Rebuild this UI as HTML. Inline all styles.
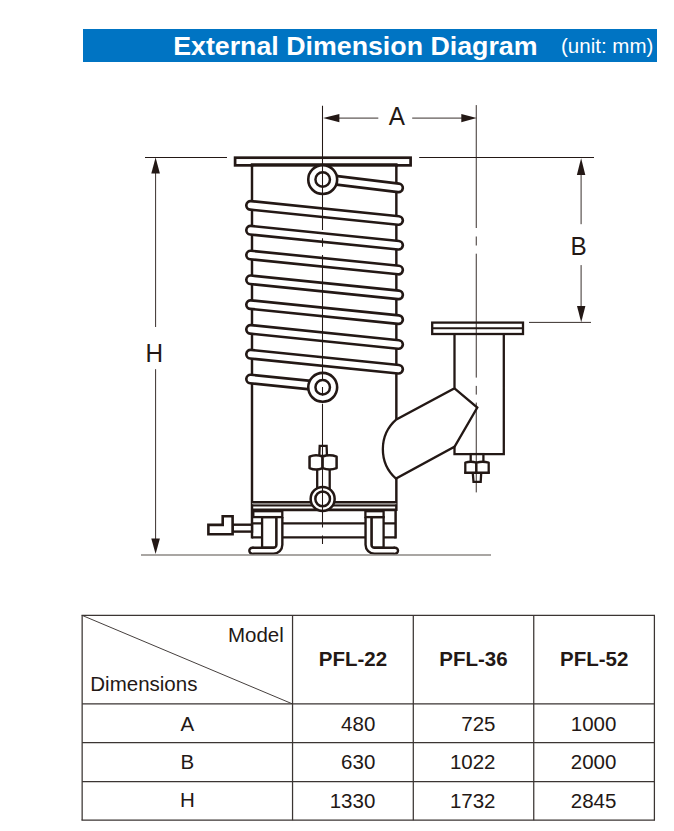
<!DOCTYPE html>
<html><head><meta charset="utf-8"><title>External Dimension Diagram</title>
<style>
html,body{margin:0;padding:0;background:#fff;}
body{width:674px;height:831px;overflow:hidden;font-family:"Liberation Sans",sans-serif;}
svg{display:block;position:absolute;left:0;top:0;}
text{font-family:"Liberation Sans",sans-serif;}
</style></head><body>
<svg width="674" height="831" viewBox="0 0 674 831">

<rect x="83" y="29" width="574" height="33" fill="#0074c3"/>
<text x="173.2" y="54.7" font-size="26.3" font-weight="bold" fill="#fff" textLength="364.3" lengthAdjust="spacingAndGlyphs">External Dimension Diagram</text>
<text x="561" y="53.2" font-size="20" fill="#fff" textLength="92.3" lengthAdjust="spacingAndGlyphs">(unit: mm)</text>
<g fill="none" stroke="#231815" stroke-width="2.3" stroke-linecap="butt" stroke-linejoin="miter">
<path d="M252 163.3 V538.6" stroke-width="2.45"/>
<path d="M396.35 163.3 V419.4 M396.35 478.6 V511" stroke-width="2.45"/>
<rect x="235.1" y="157.7" width="175.5" height="7.65" fill="#fff" stroke-width="2.7"/>
<path d="M252 167 V164.4 H396.35 V167" stroke-width="2.45"/>
<path d="M252 503.7 H396.35" stroke-width="1.6" stroke="#8f8b89"/>
<path d="M252 502 H396.35" stroke-width="2"/>
<path d="M252 505.6 H396.35" stroke-width="2"/>
<path d="M252 509.8 H396.35" stroke-width="2.8"/>
<path d="M252 523.3 H395.6 M252 537.4 H395.6" stroke-width="2.3"/>
<path d="M395.6 511 V538.55" stroke-width="2.5"/>
</g>
<path d="M250.6 205.4 L398.55 220.45" stroke="#231815" stroke-width="11.2" stroke-linecap="round" fill="none"/>
<path d="M250.6 205.4 L398.55 220.45" stroke="#fff" stroke-width="5.9" stroke-linecap="round" fill="none"/>
<path d="M250.6 230.2 L398.55 245.25" stroke="#231815" stroke-width="11.2" stroke-linecap="round" fill="none"/>
<path d="M250.6 230.2 L398.55 245.25" stroke="#fff" stroke-width="5.9" stroke-linecap="round" fill="none"/>
<path d="M250.6 255.0 L398.55 270.05" stroke="#231815" stroke-width="11.2" stroke-linecap="round" fill="none"/>
<path d="M250.6 255.0 L398.55 270.05" stroke="#fff" stroke-width="5.9" stroke-linecap="round" fill="none"/>
<path d="M250.6 279.8 L398.55 294.85" stroke="#231815" stroke-width="11.2" stroke-linecap="round" fill="none"/>
<path d="M250.6 279.8 L398.55 294.85" stroke="#fff" stroke-width="5.9" stroke-linecap="round" fill="none"/>
<path d="M250.6 304.6 L398.55 319.65" stroke="#231815" stroke-width="11.2" stroke-linecap="round" fill="none"/>
<path d="M250.6 304.6 L398.55 319.65" stroke="#fff" stroke-width="5.9" stroke-linecap="round" fill="none"/>
<path d="M250.6 329.4 L398.55 344.45" stroke="#231815" stroke-width="11.2" stroke-linecap="round" fill="none"/>
<path d="M250.6 329.4 L398.55 344.45" stroke="#fff" stroke-width="5.9" stroke-linecap="round" fill="none"/>
<path d="M250.6 354.2 L398.55 369.25" stroke="#231815" stroke-width="11.2" stroke-linecap="round" fill="none"/>
<path d="M250.6 354.2 L398.55 369.25" stroke="#fff" stroke-width="5.9" stroke-linecap="round" fill="none"/>
<path d="M322.7 178.6 L398.55 187.9" stroke="#231815" stroke-width="11.2" stroke-linecap="round" fill="none"/>
<path d="M322.7 178.6 L398.55 187.9" stroke="#fff" stroke-width="5.9" stroke-linecap="round" fill="none"/>
<path d="M250.6 379.0 L322.65 386.4" stroke="#231815" stroke-width="11.2" stroke-linecap="round" fill="none"/>
<path d="M250.6 379.0 L322.65 386.4" stroke="#fff" stroke-width="5.9" stroke-linecap="round" fill="none"/>
<circle cx="322.7" cy="179.55" r="14.45" fill="#fff" stroke="#231815" stroke-width="2.6"/>
<circle cx="322.7" cy="179.55" r="7.25" fill="#fff" stroke="#231815" stroke-width="2.5"/>
<circle cx="322.7" cy="387.3" r="14.45" fill="#fff" stroke="#231815" stroke-width="2.6"/>
<circle cx="322.7" cy="387.3" r="7.25" fill="#fff" stroke="#231815" stroke-width="2.5"/>
<g fill="#fff" stroke="#231815" stroke-width="2.3" stroke-linejoin="miter">
<rect x="317.2" y="464" width="12.5" height="26" />
<path d="M319.3 456 L319.7 445.8 H326.6 L327 456 Z"/>
<path d="M309.55 456.7 Q316 453.9 322.6 456.7 V468.1 Q316 470.9 309.55 468.1 Z" stroke-linejoin="round" stroke-width="2.5"/>
<path d="M322.6 456.7 Q329.6 453.9 336.6 456.7 V468.1 Q329.6 470.9 322.6 468.1 Z" stroke-linejoin="round" stroke-width="2.5"/>
<circle cx="322.65" cy="498.9" r="12" stroke-width="2.5"/>
<circle cx="322.65" cy="498.9" r="7.3" stroke-width="2.5"/>
</g>
<rect x="262.1" y="517.1" width="14.399999999999977" height="30.6" fill="#fff" stroke="#231815" stroke-width="2.3"/>
<path d="M279.4 517 V544.7 A6.0 6.0 0 0 1 273.4 550.7 H252.3" fill="none" stroke="#231815" stroke-width="8.3"/>
<circle cx="252.3" cy="550.7" r="4.15" fill="#231815"/>
<path d="M279.4 517 V544.7 A6.0 6.0 0 0 1 273.4 550.7 H252.3" fill="none" stroke="#fff" stroke-width="3.5"/>
<circle cx="252.3" cy="550.7" r="1.75" fill="#fff"/>
<rect x="253.3" y="511.2" width="29.0" height="5.9" fill="#fff" stroke="#231815" stroke-width="2.3"/>
<rect x="371.5" y="517.1" width="12.100000000000023" height="30.6" fill="#fff" stroke="#231815" stroke-width="2.3"/>
<path d="M368.5 517 V544.7 A6.0 6.0 0 0 0 374.5 550.7 H395.05" fill="none" stroke="#231815" stroke-width="8.3"/>
<circle cx="395.05" cy="550.7" r="4.15" fill="#231815"/>
<path d="M368.5 517 V544.7 A6.0 6.0 0 0 0 374.5 550.7 H395.05" fill="none" stroke="#fff" stroke-width="3.5"/>
<circle cx="395.05" cy="550.7" r="1.75" fill="#fff"/>
<rect x="365.4" y="511.2" width="18.200000000000045" height="5.9" fill="#fff" stroke="#231815" stroke-width="2.3"/>
<g fill="#fff" stroke="#231815" stroke-width="2.2" stroke-linejoin="miter">
<rect x="232.6" y="524.7" width="19.4" height="6.9" stroke-width="2.4"/>
<path d="M208.4 524.9 H222.7 V516.2 H232.6 V534.2 H208.4 Z" stroke-width="2.6"/>
</g>
<g fill="none" stroke="#231815" stroke-width="2.3" stroke-linejoin="miter" stroke-linecap="butt">
<rect x="432.2" y="322.6" width="90.8" height="11.4" fill="#fff"/>
<path d="M432.2 328.2 H523" stroke-width="1.9"/>
<path d="M454.5 334 V388.3 L396.4 419.4 A39.5 39.5 0 0 0 396 478.6 L454.5 446.8 V454.1 H503.8 V334"/>
<path d="M454.5 388.3 L477.3 407.6 L454.5 446.8"/>
</g>
<g fill="#fff" stroke="#231815" stroke-width="2.3" stroke-linejoin="miter">
<rect x="470.7" y="454.1" width="12.7" height="9"/>
<path d="M465.3 462.6 Q470.8 460.9 476.4 462.6 V472.8 H465.3 Z" stroke-linejoin="round"/>
<path d="M476.4 462.6 Q482.5 460.9 488.7 462.6 V472.8 H476.4 Z" stroke-linejoin="round"/>
<path d="M465.3 472.8 H488.7" stroke-linecap="square"/>
<path d="M472.8 472.8 L473.5 481.8 H480.7 L481.2 472.8" fill="none"/>
</g>
<path d="M141 555 H491" stroke="#8c8884" stroke-width="1.6" fill="none"/>
<g fill="none" stroke="#231815" stroke-width="0.9">
<path d="M322.5 105.8 V229.9 M322.5 238.2 V246.8 M322.5 255.1 V379.5 M322.5 386.9 V395.5 M322.5 403.7 V527.6 M322.5 535.6 V544" stroke-width="1.05"/>
<path d="M476.25 105.1 V228 M476.25 236.5 V245.5 M476.25 253.7 V377.6 M476.25 385.9 V394.6 M476.25 402.6 V492.4"/>
<path d="M338 118.1 H378.3 M412.2 118.1 H463"/>
<path d="M145 157.5 H227 M419.2 157.5 H594" stroke-width="1"/>
<path d="M529 322.4 H591"/>
<path d="M581.1 174 V224.2 M581.1 265.1 V307"/>
<path d="M155.6 172 V327 M155.6 369.2 V540"/>
</g>
<g fill="#231815" stroke="none">
<path d="M323.1 118.1 L339.4 113.9 L339.4 122.3 Z"/>
<path d="M476.7 118.1 L461.3 113.9 L461.3 122.3 Z"/>
<path d="M581.1 158.3 L576.9 175 L585.3 175 Z"/>
<path d="M581.2 322.2 L577 306 L585.4 306 Z"/>
<path d="M155.6 157.4 L151.3 173.6 L159.9 173.6 Z"/>
<path d="M155.6 554 L151.3 538.6 L159.9 538.6 Z"/>
</g>
<g fill="#231815" font-size="24.3">
<text x="396.9" y="0" text-anchor="middle" transform="translate(0 124.8) scale(1 1.045)">A</text>
<text x="578.7" y="0" text-anchor="middle" transform="translate(0 255) scale(1 1.04)">B</text>
<text x="154.4" y="0" text-anchor="middle" transform="translate(0 361.8) scale(1 1.05)">H</text>
</g>
<g fill="none" stroke="#3b3533" stroke-width="1.25">
<path d="M82.15 615.4 L292.55 703.95" stroke-width="0.95"/>
<path d="M81.5 615.4 H655 M82.15 703.95 H654.4 M82.15 742.55 H654.4 M82.15 781.5 H654.4 M81.5 820.15 H655"/>
<path d="M82.15 615.4 V820.15 M292.55 615.4 V820.15 M413.3 615.4 V820.15 M533.75 615.4 V820.15 M654.4 615.4 V820.15"/>
</g>
<g fill="#231815" font-size="20.5">
<text x="283.8" y="641.7" text-anchor="end">Model</text>
<text x="90.3" y="691.3">Dimensions</text>
<text x="187.3" y="730.7" text-anchor="middle">A</text>
<text x="375.3" y="731.1" text-anchor="end">480</text>
<text x="495.5" y="731.1" text-anchor="end">725</text>
<text x="616.4" y="731.1" text-anchor="end">1000</text>
<text x="187.3" y="769.0" text-anchor="middle">B</text>
<text x="375.3" y="769.4" text-anchor="end">630</text>
<text x="495.5" y="769.4" text-anchor="end">1022</text>
<text x="616.4" y="769.4" text-anchor="end">2000</text>
<text x="187.3" y="807.3" text-anchor="middle">H</text>
<text x="375.3" y="807.7" text-anchor="end">1330</text>
<text x="495.5" y="807.7" text-anchor="end">1732</text>
<text x="616.4" y="807.7" text-anchor="end">2845</text>
</g>
<g fill="#231815" font-size="20.5" font-weight="bold" text-anchor="middle">
<text x="353.0" y="666.2">PFL-22</text>
<text x="473.5" y="666.2">PFL-36</text>
<text x="594.2" y="666.2">PFL-52</text>
</g>
</svg></body></html>
